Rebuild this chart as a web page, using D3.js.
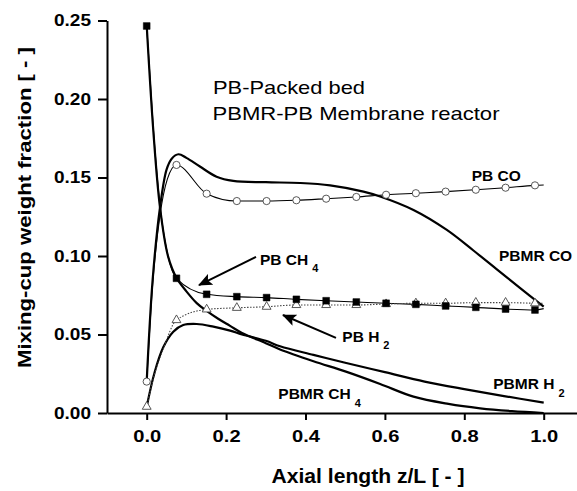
<!DOCTYPE html>
<html>
<head>
<meta charset="utf-8">
<script src="https://cdn.jsdelivr.net/npm/d3@7"></script>
<style>
  html, body { margin: 0; padding: 0; background: #fff; }
  svg { display: block; font-family: "Liberation Sans", Arial, sans-serif; }
</style>
</head>
<body>
<svg id="chart" width="577" height="491"></svg>
<script>
// ---------- data ----------
const xMajorTicks = [0, 0.2, 0.4, 0.6, 0.8, 1.0];
const xMinorTicks = [-0.1, 0.1, 0.3, 0.5, 0.7, 0.9, 1.1];
const yMajorTicks = [0, 0.05, 0.10, 0.15, 0.20, 0.25];
const yMinorTicks = [0.025, 0.075, 0.125, 0.175, 0.225];

// Packed bed (PB) marker positions and values
const markerZ = [0, 0.075, 0.151, 0.227, 0.302, 0.377, 0.452, 0.528, 0.603, 0.678, 0.753, 0.829, 0.904, 0.978];
const pbCO  = [0.020, 0.158, 0.1397, 0.135, 0.135, 0.1355, 0.1365, 0.1376, 0.139, 0.140, 0.141, 0.1422, 0.1435, 0.145];
const pbCH4 = [0.2465, 0.0858, 0.0756, 0.0741, 0.0735, 0.0724, 0.0715, 0.0707, 0.0699, 0.0692, 0.0682, 0.0673, 0.0662, 0.0656];
const pbH2  = [0.004, 0.0592, 0.066, 0.067, 0.0677, 0.0688, 0.0688, 0.0688, 0.0694, 0.0699, 0.0699, 0.0703, 0.0703, 0.0699];
// extra line points (between markers / line end)
const pbCOExtra  = [[0.015, 0.082], [0.0335, 0.126], [0.052, 0.149], [1.0, 0.1452]];
const pbCH4Extra = [[0.017, 0.180], [0.034, 0.131], [0.054, 0.0996], [1.0, 0.0665]];
const pbH2Extra  = [[0.02, 0.025], [0.042, 0.041], [1.0, 0.0698]];

// Membrane reactor (PBMR) curves
const pbmrCOz  = [0, 0.015, 0.0335, 0.05, 0.063, 0.08, 0.1, 0.134, 0.176, 0.218, 0.3, 0.386, 0.462, 0.546, 0.588, 0.672, 0.756, 0.823, 0.882, 0.94, 1.0];
const pbmrCO   = [0.020, 0.085, 0.131, 0.155, 0.162, 0.1648, 0.1625, 0.157, 0.1505, 0.1478, 0.147, 0.1465, 0.145, 0.141, 0.1379, 0.1293, 0.1166, 0.1035, 0.0915, 0.0797, 0.0677];
const pbmrCH4z = [0, 0.0166, 0.0335, 0.054, 0.0756, 0.1, 0.126, 0.151, 0.18, 0.21, 0.24, 0.30, 0.336, 0.42, 0.5, 0.588, 0.672, 0.76, 0.84, 0.92, 1.0];
const pbmrCH4  = [0.247, 0.180, 0.131, 0.0996, 0.0858, 0.0775, 0.070, 0.065, 0.060, 0.0555, 0.051, 0.0445, 0.0405, 0.033, 0.0265, 0.0185, 0.0104, 0.0058, 0.003, 0.0012, 0.0];
const pbmrH2z  = [0, 0.02, 0.042, 0.067, 0.092, 0.126, 0.168, 0.21, 0.24, 0.30, 0.336, 0.42, 0.5, 0.6, 0.7, 0.8, 0.9, 1.0];
const pbmrH2   = [0.004, 0.026, 0.042, 0.0518, 0.056, 0.0567, 0.055, 0.0525, 0.050, 0.046, 0.0425, 0.037, 0.032, 0.026, 0.020, 0.0152, 0.0108, 0.0066];

// ---------- setup ----------
const svg = d3.select("#chart");
svg.append("rect").attr("width", 577).attr("height", 491).attr("fill", "#fff");

const x = d3.scaleLinear().domain([-0.1, 1.1]).range([107, 583.4]);
const y = d3.scaleLinear().domain([0, 0.25]).range([413, 20.5]);

// ---------- axes ----------
const gx = svg.append("g").attr("transform", `translate(0,${y(0)})`);
gx.call(d3.axisBottom(x).tickValues(xMinorTicks).tickSize(4).tickSizeOuter(0).tickFormat(""));
gx.call(d3.axisBottom(x).tickValues(xMajorTicks).tickSize(7).tickPadding(10).tickSizeOuter(0).tickFormat(d3.format(".1f")));
const gy = svg.append("g").attr("transform", `translate(${x(-0.1)},0)`);
gy.call(d3.axisLeft(y).tickValues(yMinorTicks).tickSize(5).tickSizeOuter(0).tickFormat(""));
gy.call(d3.axisLeft(y).tickValues(yMajorTicks).tickSize(9).tickPadding(7).tickSizeOuter(0).tickFormat(d3.format(".2f")));

svg.selectAll(".domain").attr("stroke", "#000").attr("stroke-width", 2);
svg.selectAll(".tick line").attr("stroke", "#000").attr("stroke-width", 2);
gx.selectAll(".tick text").attr("font-size", 17).attr("font-weight", "bold").attr("fill", "#000")
  .attr("textLength", 28).attr("lengthAdjust", "spacingAndGlyphs").attr("font-family", "Liberation Sans, Arial, sans-serif");
gy.selectAll(".tick text").attr("font-size", 17).attr("font-weight", "bold").attr("fill", "#000")
  .attr("textLength", 37).attr("lengthAdjust", "spacingAndGlyphs").attr("font-family", "Liberation Sans, Arial, sans-serif");

// axis titles
svg.append("text")
  .attr("x", 368).attr("y", 483)
  .attr("text-anchor", "middle").attr("font-size", 20).attr("font-weight", "bold")
  .attr("textLength", 193).attr("lengthAdjust", "spacingAndGlyphs")
  .text("Axial length z/L [ - ]");
svg.append("text")
  .attr("transform", "translate(31,207.5) rotate(-90)")
  .attr("text-anchor", "middle").attr("font-size", 19).attr("font-weight", "bold")
  .attr("textLength", 321).attr("lengthAdjust", "spacingAndGlyphs")
  .text("Mixing-cup weight fraction [ - ]");

// ---------- curves ----------
const line = d3.line().x(d => x(d[0])).y(d => y(d[1])).curve(d3.curveMonotoneX);
const smooth = d3.line().x(d => x(d[0])).y(d => y(d[1])).curve(d3.curveCatmullRom.alpha(0.5));
const zip = (zs, vs) => zs.map((z, i) => [z, vs[i]]);
const merge = (a, b) => a.concat(b).sort((p, q) => p[0] - q[0]);

const plot = svg.append("g");
// PBMR thick curves
[[pbmrCOz, pbmrCO], [pbmrCH4z, pbmrCH4], [pbmrH2z, pbmrH2]].forEach(([zs, vs]) => {
  plot.append("path").attr("d", smooth(zip(zs, vs)))
    .attr("fill", "none").attr("stroke", "#000").attr("stroke-width", 2.2);
});
// PB thin curves
plot.append("path").attr("d", line(merge(zip(markerZ, pbCO), pbCOExtra)))
  .attr("fill", "none").attr("stroke", "#000").attr("stroke-width", 1.1);
plot.append("path").attr("d", line(merge(zip(markerZ, pbCH4), pbCH4Extra)))
  .attr("fill", "none").attr("stroke", "#000").attr("stroke-width", 1.1);
plot.append("path").attr("d", line(merge(zip(markerZ, pbH2), pbH2Extra)))
  .attr("fill", "none").attr("stroke", "#444").attr("stroke-width", 1.1).attr("stroke-dasharray", "1.5,1.5");

// markers
plot.selectAll(".mco").data(zip(markerZ, pbCO)).join("circle")
  .attr("cx", d => x(d[0])).attr("cy", d => y(d[1])).attr("r", 3.6)
  .attr("fill", "#fff").attr("stroke", "#444").attr("stroke-width", 0.9);
plot.selectAll(".mh2").data(zip(markerZ, pbH2)).join("path")
  .attr("transform", d => `translate(${x(d[0])},${y(d[1])})`)
  .attr("d", d3.symbol(d3.symbolTriangle, 34))
  .attr("fill", "#fff").attr("stroke", "#444").attr("stroke-width", 0.9);
plot.selectAll(".mch4").data(zip(markerZ, pbCH4)).join("path")
  .attr("transform", d => `translate(${x(d[0])},${y(d[1])})`)
  .attr("d", d3.symbol(d3.symbolSquare, 46))
  .attr("fill", "#000").attr("stroke", "#000").attr("stroke-width", 0.5);

// ---------- annotations ----------
svg.append("text").attr("x", 213).attr("y", 93.5).attr("font-size", 19)
  .attr("textLength", 152).attr("lengthAdjust", "spacingAndGlyphs").text("PB-Packed bed");
svg.append("text").attr("x", 212.5).attr("y", 120).attr("font-size", 19)
  .attr("textLength", 287).attr("lengthAdjust", "spacingAndGlyphs").text("PBMR-PB Membrane reactor");

const labels = [
  { t: "PB CO",   sub: "",  z: 0.8186, v: 0.148 },
  { t: "PBMR CO", sub: "",  z: 0.8874, v: 0.0970 },
  { t: "PB CH",   sub: "4", z: 0.2854, v: 0.0943 },
  { t: "PB H",    sub: "2", z: 0.4927, v: 0.0454 },
  { t: "PBMR H",  sub: "2", z: 0.873,  v: 0.0151 },
  { t: "PBMR CH", sub: "4", z: 0.3315, v: 0.0087 }
];
labels.forEach(l => {
  const t = svg.append("text").attr("x", x(l.z)).attr("y", y(l.v))
    .attr("font-size", 15.5).attr("font-weight", "bold").text(l.t);
  if (l.sub) t.append("tspan").attr("dx", 4).attr("dy", 7.5).attr("font-size", 11).text(l.sub);
});

// arrows
const defs = svg.append("defs");
defs.append("marker").attr("id", "ah").attr("viewBox", "0 0 14 12")
  .attr("refX", 13).attr("refY", 6).attr("markerWidth", 14).attr("markerHeight", 12)
  .attr("markerUnits", "userSpaceOnUse").attr("orient", "auto")
  .append("path").attr("d", "M0,0 L14,6 L0,12 L3,6 Z").attr("fill", "#000");
const arrows = [
  { from: [0.2753, 0.0994], to: [0.1317, 0.0815] },
  { from: [0.4768, 0.0478], to: [0.3433, 0.0624] }
];
arrows.forEach(a => {
  svg.append("line")
    .attr("x1", x(a.from[0])).attr("y1", y(a.from[1]))
    .attr("x2", x(a.to[0])).attr("y2", y(a.to[1]))
    .attr("stroke", "#000").attr("stroke-width", 2).attr("marker-end", "url(#ah)");
});
</script>
</body>
</html>
